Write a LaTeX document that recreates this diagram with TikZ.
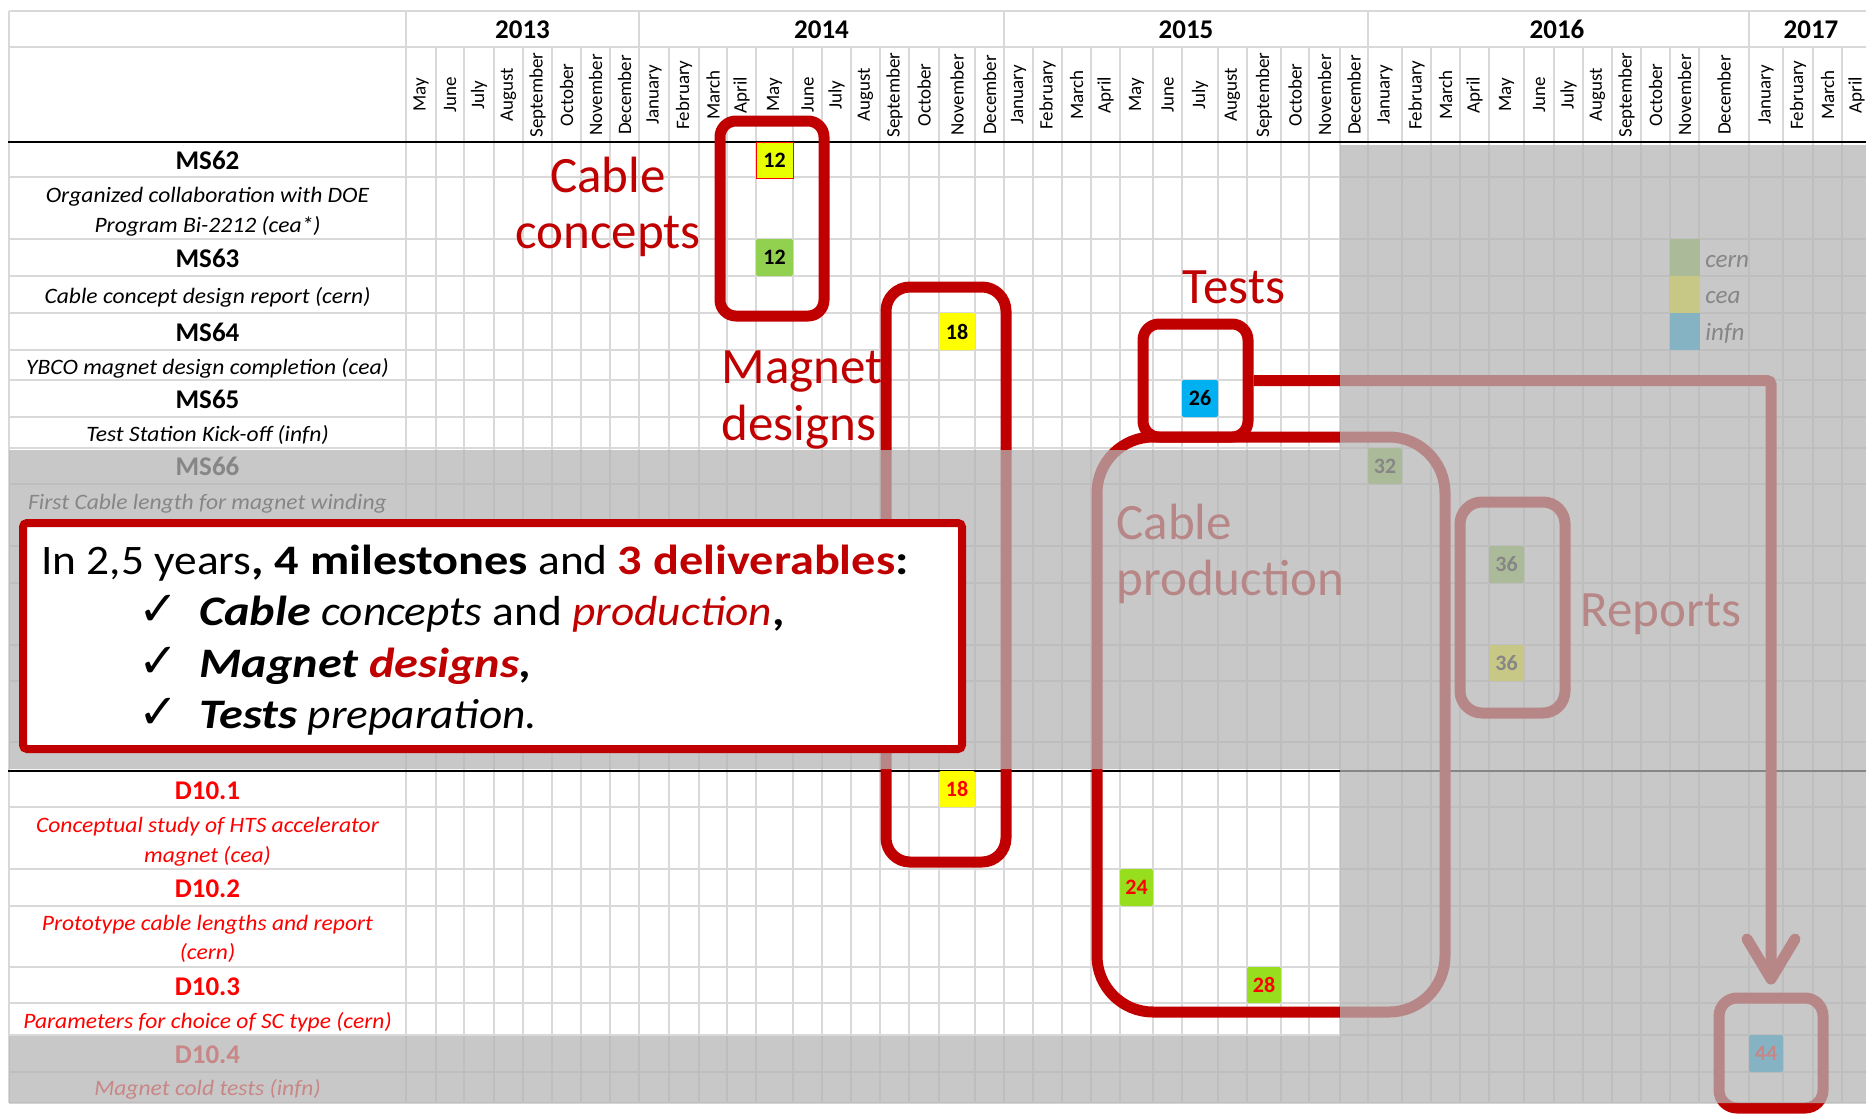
\documentclass[tikz,border=0pt]{standalone}
\usepackage{fontspec}
\setmainfont{Carlito}
\newfontfamily\symfont{DejaVu Sans}
\newfontfamily\dscfont[FakeStretch=1.07]{Carlito}
\newfontfamily\sumfont[FakeStretch=1.08]{Carlito}
\newfontfamily\sumbold[FakeStretch=1.15]{Carlito}
\usetikzlibrary{arrows.meta}
\definecolor{dred}{RGB}{192,0,0}
\definecolor{gridc}{RGB}{217,217,217}
\definecolor{ovl}{RGB}{181,181,181}
\definecolor{msyel}{RGB}{255,255,0}
\definecolor{msyelb}{RGB}{232,255,0}
\definecolor{msgrn}{RGB}{146,208,80}
\definecolor{msgrnb}{RGB}{150,222,30}
\definecolor{msblu}{RGB}{0,176,240}
\newcommand{\sbold}[1]{{\sumbold\bfseries #1}}
\begin{document}
\begin{tikzpicture}[x=0.5pt,y=-0.5pt,
  gl/.style={draw=gridc, line width=1pt},
  thick line/.style={draw=black, line width=1.2pt},
  yr/.style={font=\fontsize{13.5}{16}\selectfont\bfseries, anchor=base, inner sep=0pt},
  mon/.style={font=\fontsize{9.5}{11}\selectfont, rotate=90, anchor=center, inner sep=0pt},
  mst/.style={font=\fontsize{13.5}{16}\selectfont\bfseries, anchor=base, inner sep=0pt},
  dsc/.style={font=\fontsize{11}{13}\selectfont\dscfont\itshape, anchor=base, inner sep=0pt},
  dst/.style={mst, text=red},
  dds/.style={dsc, text=red},
  sq/.style={inner sep=0pt, rounded corners=1pt, font=\fontsize{11}{13}\selectfont\bfseries},
  legt/.style={font=\fontsize{12.5}{15}\selectfont\itshape, anchor=base west, inner sep=0pt},
  big/.style={font=\fontsize{25.5}{30}\selectfont, text=dred, inner sep=0pt},
  rbox/.style={draw=dred, line width=5.5pt, inner sep=0pt},
  sumt/.style={font=\fontsize{21}{25}\selectfont\sumfont, anchor=base west, inner sep=0pt},
  chk/.style={font=\fontsize{24}{28}\selectfont\symfont, anchor=base west, inner sep=0pt},
]
\useasboundingbox (0,0) rectangle (1866,1114);
\clip (0,0) rectangle (1866,1114);
\fill[white] (0,0) rectangle (1866,1114);

% grid
\foreach \x in {436,464,494,523,552,581,610,669,699,727,756,793,822,851,880,909,939,975,1033,1062,1091,1120,1153,1182,1218,1247,1281,1309,1340,1402,1431,1460,1489,1524,1554,1583,1612,1641,1670,1699,1783,1813,1842}
  \draw[gl] (\x,47) -- (\x,1103);
\foreach \x in {9,406,639,1004,1368,1749}
  \draw[gl] (\x,11) -- (\x,1103);
\foreach \y in {11,47,177,239,276,313,350,380,417,448,484,546,583,645,681,742,807,869,906,967,1003,1035,1072,1103}
  \draw[gl] (9,\y) -- (1866,\y);
\draw[thick line] (8,142) -- (1866,142);
\draw[thick line] (8,771) -- (1866,771);

% years
\node[yr] (y13) at (522.5,38) {2013};
\node[yr] (y14) at (821.5,38) {2014};
\node[yr] (y15) at (1186,38) {2015};
\node[yr] (y16) at (1557,38) {2016};
\node[yr] (y17) at (1811,38) {2017};

% months
\foreach \c/\m [count=\i] in {421/May,450/June,479/July,508.5/August,537.5/September,566.5/October,595.5/November,624.5/December,
  654/January,684/February,713/March,741.5/April,774.5/May,807.5/June,836.5/July,865.5/August,894.5/September,924/October,957/November,989.5/December,
  1018.5/January,1047.5/February,1076.5/March,1105.5/April,1136.5/May,1167.5/June,1200/July,1232.5/August,1264/September,1295/October,1324.5/November,1354/December,
  1385/January,1416.5/February,1445.5/March,1474.5/April,1506.5/May,1539/June,1568.5/July,1597.5/August,1626.5/September,1655.5/October,1684.5/November,1724/December,
  1766/January,1798/February,1827.5/March,1856.5/April}
  \node[mon] (mon\i) at (\c,95) {\m};

% row labels
\node[mst] (l62) at (207.5,169) {MS62};
\node[dsc] (l62a) at (207.5,202) {Organized collaboration with DOE};
\node[dsc] (l62b) at (207.5,232) {Program Bi-2212 (cea*)};
\node[mst] (l63) at (207.5,267) {MS63};
\node[dsc] (l63a) at (207.5,303) {Cable concept design report (cern)};
\node[mst] (l64) at (207.5,341) {MS64};
\node[dsc] (l64a) at (207.5,374) {YBCO magnet design completion (cea)};
\node[mst] (l65) at (207.5,408) {MS65};
\node[dsc] (l65a) at (207.5,441) {Test Station Kick-off (infn)};
\node[mst] (l66) at (207.5,475) {MS66};
\node[dsc] (l66a) at (207.5,509) {First Cable length for magnet winding};
\node[dst] (l101) at (207.5,799) {D10.1};
\node[dds] (l101a) at (207.5,832) {Conceptual study of HTS accelerator};
\node[dds] (l101b) at (207.5,862) {magnet (cea)};
\node[dst] (l102) at (207.5,897) {D10.2};
\node[dds] (l102a) at (207.5,930) {Prototype cable lengths and report};
\node[dds] (l102b) at (207.5,959) {(cern)};
\node[dst] (l103) at (207.5,995) {D10.3};
\node[dds] (l103a) at (207.5,1028) {Parameters for choice of SC type (cern)};
\node[dst] (l104) at (207.5,1063) {D10.4};
\node[dds] (l104a) at (207.5,1095) {Magnet cold tests (infn)};

% milestone squares
\node[sq, fill=msyelb, draw=red, line width=0.5pt, minimum width=18.5pt, minimum height=18pt, rounded corners=0pt] (m62) at (774.5,160) {12};
\node[sq, fill=msgrn, minimum width=18.5pt, minimum height=18.5pt] (m63) at (774.5,257.5) {12};
\node[sq, fill=msyel, minimum width=18pt, minimum height=18.5pt] (m64) at (957,331.5) {18};
\node[sq, fill=msblu, minimum width=18pt, minimum height=18.5pt] (m65) at (1200,398.5) {26};
\node[sq, fill=msgrn, minimum width=17pt, minimum height=18pt] (m66) at (1385,466) {32};
\node[sq, fill=msgrn, minimum width=17.5pt, minimum height=18.5pt] (m67) at (1506.5,564.5) {36};
\node[sq, fill=msyel, minimum width=17.5pt, minimum height=18pt] (m68) at (1506.5,663) {36};
\node[sq, fill=msyel, text=red, minimum width=18pt, minimum height=18pt] (d1) at (957,789) {18};
\node[sq, fill=msgrnb, text=red, minimum width=16.5pt, minimum height=18.5pt] (d2) at (1136.5,887.5) {24};
\node[sq, fill=msgrnb, text=red, minimum width=17pt, minimum height=18pt] (d3) at (1264,985) {28};
\node[sq, fill=msblu, text=red, minimum width=17pt, minimum height=18.5pt] (d4) at (1766,1053.5) {44};

% legend
\node[sq, fill=msgrn, minimum width=15pt, minimum height=18.5pt, rounded corners=0pt] (lg1) at (1685,257.5) {};
\node[sq, fill=msyel, minimum width=15pt, minimum height=18.5pt, rounded corners=0pt] (lg2) at (1685,294.5) {};
\node[sq, fill=msblu, minimum width=15pt, minimum height=18.5pt, rounded corners=0pt] (lg3) at (1685,331.5) {};
\node[legt] (lt1) at (1705,267) {cern};
\node[legt] (lt2) at (1705,303) {cea};
\node[legt] (lt3) at (1705,340) {infn};

% annotation texts
\node[big, anchor=base] (tcc1) at (608,192) {Cable};
\node[big, anchor=base] (tcc2) at (608,248) {concepts};
\node[big, anchor=base west] (tmd1) at (721,383) {Magnet};
\node[big, anchor=base west] (tmd2) at (721,440) {designs};
\node[big, anchor=base] (tts) at (1234,303) {Tests};
\node[big, anchor=base west] (tcp1) at (1116,539) {Cable};
\node[big, anchor=base west] (tcp2) at (1116,595) {production};
\node[big, anchor=base west] (trp) at (1580,626) {Reports};

% annotation boxes
\node[rbox, rounded corners=8pt, minimum width=52pt, minimum height=97.5pt] (ccbox) at (772,218.5) {};
\node[rbox, rounded corners=12pt, minimum width=60pt, minimum height=287.5pt] (mdbox) at (946,574.5) {};
\node[rbox, rounded corners=28pt, minimum width=174pt, minimum height=287.5pt] (cpbox) at (1271,724.5) {};
\node[rbox, rounded corners=8pt, minimum width=52.5pt, minimum height=56.5pt] (tsbox) at (1195.5,380.5) {};
\node[rbox, rounded corners=11pt, minimum width=52.5pt, minimum height=105.5pt] (rpbox) at (1512.5,607.5) {};
\node[rbox, rounded corners=9pt, minimum width=52pt, minimum height=55pt] (tgbox) at (1771,1053) {};
\draw[draw=dred, line width=5.5pt, rounded corners=2pt, shorten >=4pt,
  -{Straight Barb[length=20pt,width=24pt,round]}] (tsbox.east) -| (tgbox.north);

% grey overlay
\fill[ovl, opacity=0.74] (1340,145) rectangle (1866,1103) (9,450) rectangle (1340,769) (9,1036) rectangle (1340,1103);

% summary box
\node[draw=dred, line width=4pt, fill=white, rounded corners=2pt, minimum width=469.5pt, minimum height=113pt, inner sep=0pt] (sumbox) at (492.5,636) {};
\node[sumt] (s1) at (41,574) {In 2,5 years\sbold{, 4 milestones} and \sbold{\textcolor{dred}{3 deliverables}:}};
\node[chk] (c2) at (138,625) {✓};
\node[chk] (c3) at (138,677) {✓};
\node[chk] (c4) at (138,728) {✓};
\node[sumt] (s2) at (199,625) {\sbold{\itshape Cable} \textit{concepts} and \textit{\textcolor{dred}{production}}\sbold{,}};
\node[sumt] (s3) at (199,677) {\sbold{\itshape Magnet \textcolor{dred}{designs},}};
\node[sumt] (s4) at (199,728) {\sbold{\itshape Tests} \textit{preparation.}};
\end{tikzpicture}
\end{document}
